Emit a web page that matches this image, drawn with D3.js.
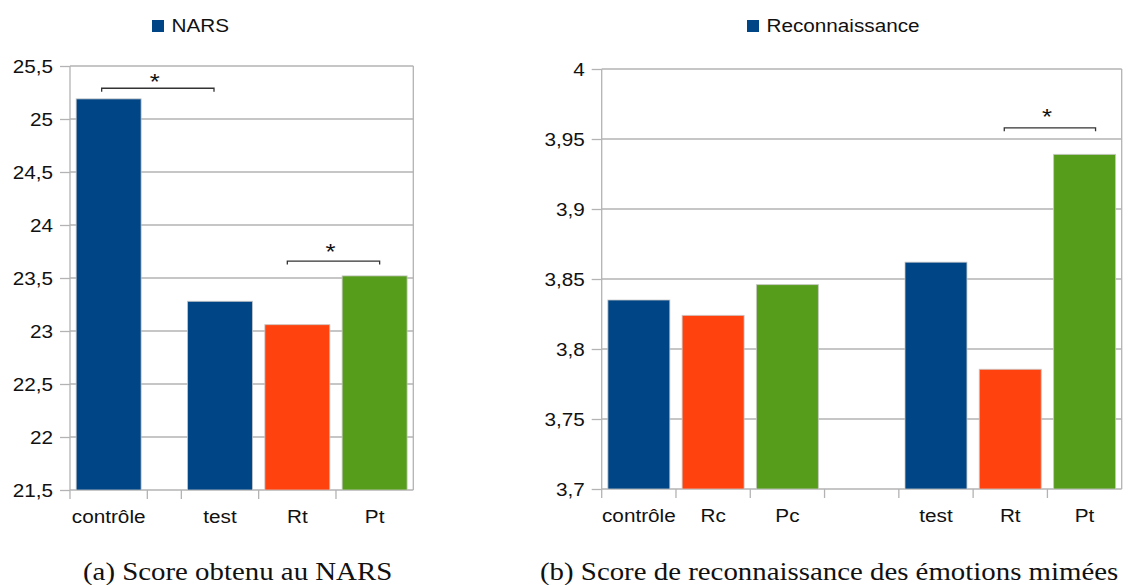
<!DOCTYPE html>
<html><head><meta charset="utf-8">
<script src="https://cdn.jsdelivr.net/npm/d3@7"></script>
<style>body{margin:0;background:#fff}svg{display:block}</style></head>
<body>
<svg id="c" width="1128" height="585"></svg>
<script>
// ---------- data ----------
const categoriesA = ["contrôle", "", "test", "Rt", "Pt"];
const valuesA = [25.19, null, 23.28, 23.06, 23.52];
const ticksA = [21.5, 22, 22.5, 23, 23.5, 24, 24.5, 25, 25.5];
const legendA = "NARS";
const captionA = "(a) Score obtenu au NARS";
const signifPairsA = [["contrôle", "test"], ["Rt", "Pt"]];
const signifLevelsA = [25.29, 23.66];

const categoriesB = ["contrôle", "Rc", "Pc", "", "test", "Rt", "Pt"];
const valuesB = [3.835, 3.824, 3.846, null, 3.862, 3.7855, 3.939];
const ticksB = [3.7, 3.75, 3.8, 3.85, 3.9, 3.95, 4];
const legendB = "Reconnaissance";
const captionB = "(b) Score de reconnaissance des émotions mimées";
const signifPairsB = [["Rt", "Pt"]];
const signifLevelsB = [3.958];

// ---------- styles ----------
const colour = d3.scaleOrdinal()
  .domain(["contrôle", "test", "Rc", "Rt", "Pc", "Pt"])
  .range(["#004586", "#004586", "#ff420e", "#ff420e", "#579d1c", "#579d1c"]);
const SX = 1.12;
const gridColour = "#b3b3b3";
const textColour = "#111";
const sans = "'Liberation Sans', Arial, sans-serif";
const serif = "'Liberation Serif', 'Times New Roman', serif";
const fmt = d3.formatLocale({decimal: ",", thousands: "\u00a0", grouping: [3], currency: ["", "€"]}).format("~f");

const svg = d3.select("#c");

function drawChart(cfg) {
  const total = d3.sum(cfg.weights);
  const starts = [0, ...d3.cumsum(cfg.weights)].slice(0, cfg.weights.length);
  const box = cfg.box;
  const x = d3.scaleLinear().domain([0, total]).range([box.left, box.right]);
  const y = d3.scaleLinear().domain([cfg.ticks[0], cfg.ticks[cfg.ticks.length - 1]]).range([box.bottom, box.top]);
  const idx = c => cfg.categories.indexOf(c);
  const centre = c => x(starts[idx(c)] + cfg.weights[idx(c)] / 2);
  const g = svg.append("g");

  // gridlines
  g.selectAll("line.grid").data(cfg.ticks).join("line").attr("class", "grid")
    .attr("x1", box.left).attr("x2", box.right)
    .attr("y1", d => y(d)).attr("y2", d => y(d))
    .attr("stroke", gridColour).attr("stroke-width", 1.3);

  // frame
  g.append("line").attr("x1", box.left).attr("x2", box.left).attr("y1", box.top).attr("y2", box.bottom)
    .attr("stroke", gridColour).attr("stroke-width", 1.3);
  g.append("line").attr("x1", box.right).attr("x2", box.right).attr("y1", box.top).attr("y2", box.bottom)
    .attr("stroke", gridColour).attr("stroke-width", 1.3);

  // y axis
  const ax = g.append("g").attr("transform", `translate(${box.left},0)`)
    .call(d3.axisLeft(y).tickValues(cfg.ticks).tickFormat(fmt).tickSize(10).tickPadding(7));
  ax.select(".domain").remove();
  ax.selectAll(".tick line").attr("stroke", gridColour).attr("stroke-width", 1.3);
  ax.selectAll(".tick text")
    .attr("x", 0).attr("dy", "0.35em")
    .attr("transform", `translate(-17,0) scale(${SX},1)`)
    .attr("fill", textColour)
    .style("font-family", sans).style("font-size", "18.5px");

  // x ticks at slot boundaries
  g.selectAll("line.xt").data(starts).join("line").attr("class", "xt")
    .attr("x1", d => x(d)).attr("x2", d => x(d))
    .attr("y1", box.bottom).attr("y2", box.bottom + 9)
    .attr("stroke", gridColour).attr("stroke-width", 1.3);

  // bars
  const pad = cfg.barPad;
  const bars = cfg.values.map((v, i) => ({v, i, c: cfg.categories[i]})).filter(d => d.v != null);
  g.selectAll("rect.bar").data(bars).join("rect").attr("class", "bar")
    .attr("x", d => x(starts[d.i] + cfg.weights[d.i] * pad))
    .attr("width", d => x(starts[d.i] + cfg.weights[d.i] * (1 - pad)) - x(starts[d.i] + cfg.weights[d.i] * pad))
    .attr("y", d => y(d.v))
    .attr("height", d => y(cfg.ticks[0]) - y(d.v))
    .attr("fill", d => colour(d.c))
    .attr("stroke", "#c8c8c8").attr("stroke-opacity", 0.8).attr("stroke-width", 1);

  // x labels
  g.selectAll("text.xl").data(cfg.categories).join("text").attr("class", "xl")
    .attr("transform", (d, i) => `translate(${x(starts[i] + cfg.weights[i] / 2)},${box.bottom + 33}) scale(${SX},1)`)
    .attr("text-anchor", "middle").attr("fill", textColour)
    .style("font-family", sans).style("font-size", "18.5px")
    .text(d => d);

  // significance brackets
  cfg.signifPairs.forEach((p, k) => {
    const x1 = centre(p[0]) + cfg.bracketDx[k][0];
    const x2 = centre(p[1]) + cfg.bracketDx[k][1];
    const yy = y(cfg.signifLevels[k]);
    g.append("path")
      .attr("d", `M${x1},${yy + 3.5}V${yy}H${x2}V${yy + 3.5}`)
      .attr("fill", "none").attr("stroke", "#333").attr("stroke-width", 1.3);
    g.append("text")
      .attr("transform", `translate(${(x1 + x2) / 2 - 3},${yy - cfg.starDy[k]}) scale(${SX},1)`)
      .attr("text-anchor", "middle").attr("fill", textColour)
      .style("font-family", sans).style("font-size", "23px")
      .text("*");
  });

  // legend
  g.append("rect").attr("x", cfg.legendX).attr("y", 20).attr("width", 12).attr("height", 12).attr("fill", colour("contrôle"));
  g.append("text")
    .attr("transform", `translate(${cfg.legendX + 19.5},32) scale(${SX},1)`)
    .attr("fill", textColour).style("font-family", sans).style("font-size", "18.5px")
    .text(cfg.legend);

  // caption
  svg.append("text")
    .attr("transform", `translate(${cfg.captionX},580) scale(1.11,1)`)
    .attr("fill", "#111").style("font-family", serif).style("font-size", "26px")
    .text(cfg.caption);
}

drawChart({
  categories: categoriesA, values: valuesA, ticks: ticksA, legend: legendA, caption: captionA,
  signifPairs: signifPairsA, signifLevels: signifLevelsA,
  box: {left: 70, right: 413.3, top: 66, bottom: 490},
  weights: [1, 0.44, 1, 1, 1], barPad: 0.08,
  bracketDx: [[-7, -6], [-10, 5]], starDy: [-1, 2],
  legendX: 152, captionX: 83
});

drawChart({
  categories: categoriesB, values: valuesB, ticks: ticksB, legend: legendB, caption: captionB,
  signifPairs: signifPairsB, signifLevels: signifLevelsB,
  box: {left: 601.7, right: 1121.7, top: 69, bottom: 489},
  weights: [1, 1, 1, 1, 1, 1, 1], barPad: 0.083,
  bracketDx: [[-6, 11]], starDy: [4],
  legendX: 747, captionX: 540
});
</script>
</body></html>
